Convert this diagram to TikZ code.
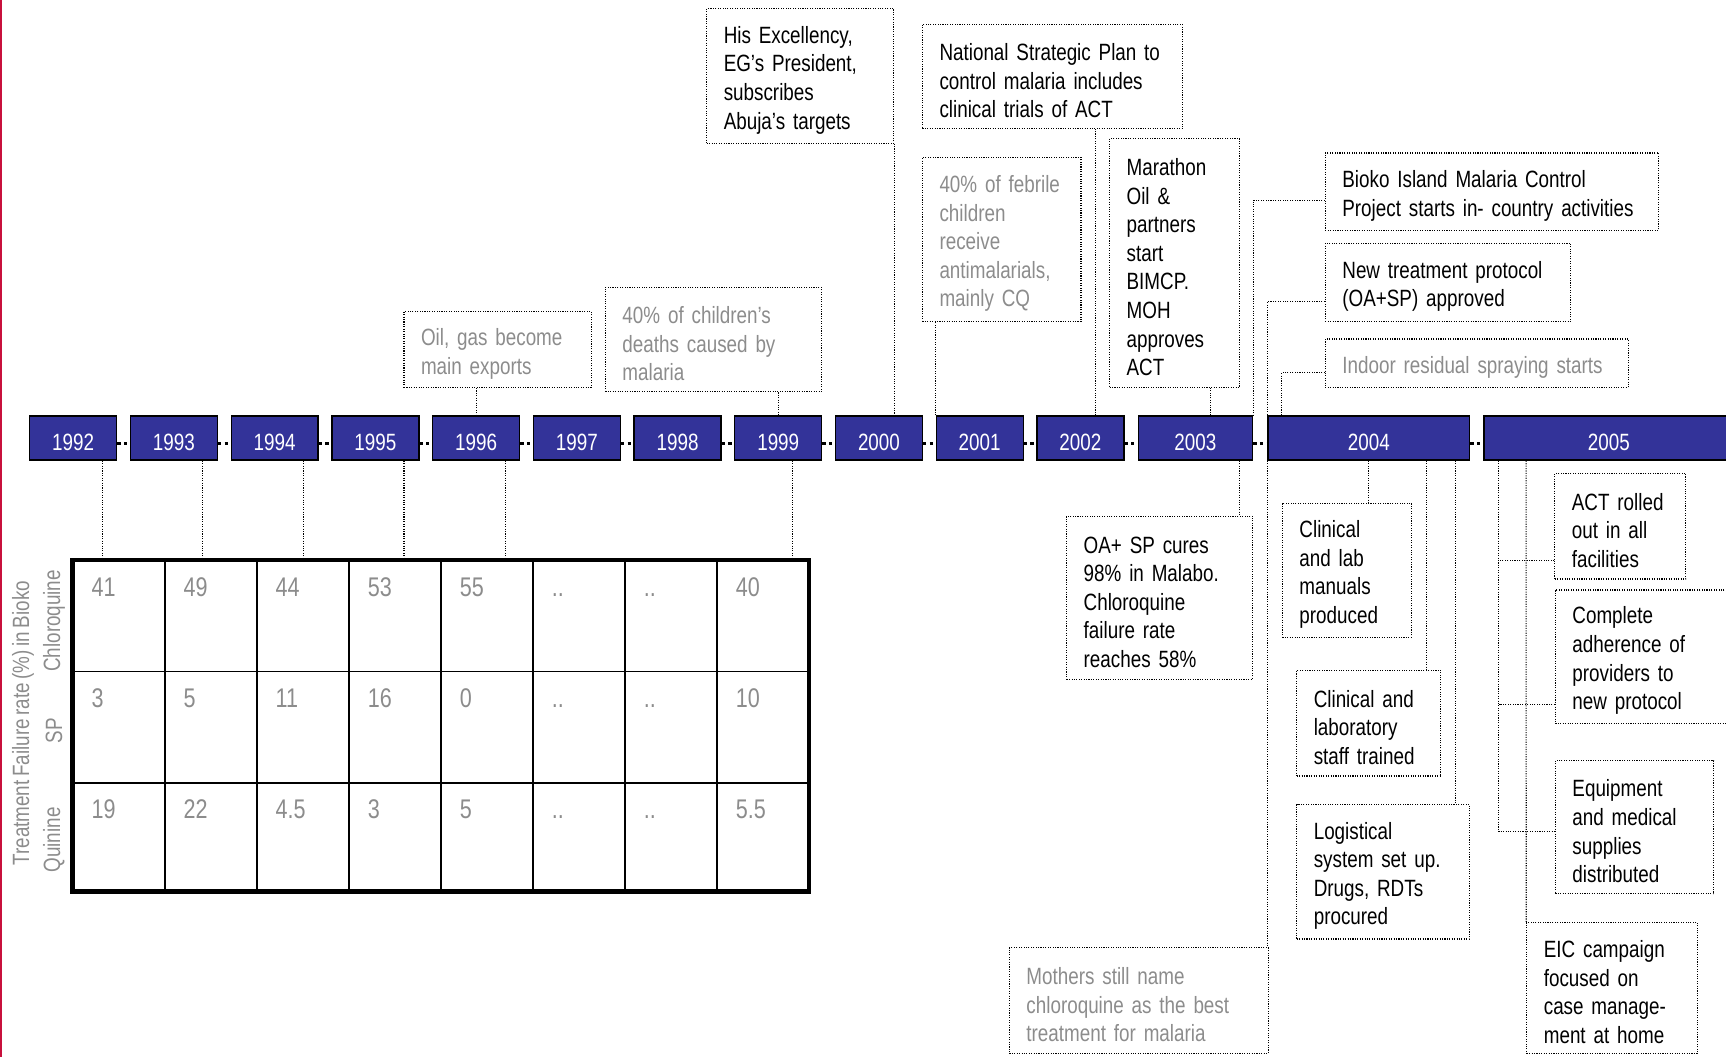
\documentclass[tikz,border=0pt]{standalone}
\usepackage{fontspec}
\setmainfont{Liberation Sans}[FakeStretch=0.80, WordSpace=0.7]
\hyphenpenalty=10000
\exhyphenpenalty=10000

\definecolor{yearblue}{RGB}{51,51,153}
\definecolor{fadegray}{RGB}{140,140,140}
\definecolor{edgered}{RGB}{200,16,60}

\tikzset{
  yearbox/.style={draw=black, line width=1.2pt, fill=yearblue, text=white, minimum width=79pt, minimum height=40pt, inner sep=0pt, text height=23pt, text depth=0pt},
  yeargap/.style={line width=3pt, dash pattern=on 3pt off 3pt},
  dotbox/.style={draw, line width=1pt, dash pattern=on 1pt off 1.2pt, align=left, inner xsep=15.5pt, inner ysep=0pt, execute at begin node={\rule{0pt}{23pt}}},
  link/.style={draw, line width=1pt, dash pattern=on 1pt off 1.2pt},
  faded/.style={text=fadegray},
  cell/.style={anchor=base west, text=fadegray, font=\fontsize{24.5}{29}\selectfont, inner sep=0pt}
}

\begin{document}
\begin{tikzpicture}[x=1pt, y=-1pt, font=\fontsize{21.4}{26}\selectfont]
        \useasboundingbox (0,0) rectangle (1568,960);

        % Red rule on the left edge of the slide
        \fill[edgered] (0,0) rectangle (2.2,960);

        % The years along the time line
        \node[yearbox] (y1992) at (66.5,398) {1992};
        \node[yearbox] (y1993) at (158,398) {1993};
        \node[yearbox] (y1994) at (249.5,398) {1994};
        \node[yearbox] (y1995) at (341,398) {1995};
        \node[yearbox] (y1996) at (432.5,398) {1996};
        \node[yearbox] (y1997) at (524,398) {1997};
        \node[yearbox] (y1998) at (615.5,398) {1998};
        \node[yearbox] (y1999) at (707,398) {1999};
        \node[yearbox] (y2000) at (798.5,398) {2000};
        \node[yearbox] (y2001) at (890,398) {2001};
        \node[yearbox] (y2002) at (981.5,398) {2002};
        \node[yearbox, minimum width=104pt] (y2003) at (1086,398) {2003};
        \node[yearbox, minimum width=183pt] (y2004) at (1243.5,398) {2004};
        \node[yearbox, minimum width=227pt] (y2005) at (1461.5,398) {2005};

        % Dots between the years
        \draw[yeargap] ([yshift=-5pt]y1992.east) -- ([yshift=-5pt]y1993.west);
        \draw[yeargap] ([yshift=-5pt]y1993.east) -- ([yshift=-5pt]y1994.west);
        \draw[yeargap] ([yshift=-5pt]y1994.east) -- ([yshift=-5pt]y1995.west);
        \draw[yeargap] ([yshift=-5pt]y1995.east) -- ([yshift=-5pt]y1996.west);
        \draw[yeargap] ([yshift=-5pt]y1996.east) -- ([yshift=-5pt]y1997.west);
        \draw[yeargap] ([yshift=-5pt]y1997.east) -- ([yshift=-5pt]y1998.west);
        \draw[yeargap] ([yshift=-5pt]y1998.east) -- ([yshift=-5pt]y1999.west);
        \draw[yeargap] ([yshift=-5pt]y1999.east) -- ([yshift=-5pt]y2000.west);
        \draw[yeargap] ([yshift=-5pt]y2000.east) -- ([yshift=-5pt]y2001.west);
        \draw[yeargap] ([yshift=-5pt]y2001.east) -- ([yshift=-5pt]y2002.west);
        \draw[yeargap] ([yshift=-5pt]y2002.east) -- ([yshift=-5pt]y2003.west);
        \draw[yeargap] ([yshift=-5pt]y2003.east) -- ([yshift=-5pt]y2004.west);
        \draw[yeargap] ([yshift=-5pt]y2004.east) -- ([yshift=-5pt]y2005.west);

        % Events above the time line
        \node[dotbox, faded, text width=139pt, minimum height=69pt] (oilgas) at (452,317.5) {Oil, gas become\\main exports};
        \node[dotbox, faded, text width=165pt, minimum height=95pt] (deaths) at (648,308.5) {40\% of children’s\\deaths caused by\\malaria};
        \node[dotbox, text width=139pt, minimum height=122pt] (excellency) at (727,69) {His Excellency,\\EG’s President,\\subscribes\\Abuja’s targets};
        \node[dotbox, text width=205pt, minimum height=95pt] (strategic) at (956,69.5) {National Strategic Plan to\\control malaria includes\\clinical trials of ACT};
        \node[dotbox, faded, text width=113pt, minimum height=149pt] (febrile) at (910,217.5) {40\% of febrile\\children\\receive\\antimalarials,\\mainly CQ};
        \node[dotbox, text width=87pt, minimum height=226pt] (marathon) at (1067,239) {Marathon\\Oil \&\\partners\\start\\BIMCP.\\MOH\\approves\\ACT};
        \node[dotbox, text width=272pt, minimum height=70pt] (bioko) at (1355.5,174) {Bioko Island Malaria Control\\Project starts in- country activities};
        \node[dotbox, text width=192pt, minimum height=71pt] (protocol) at (1315.5,256.5) {New treatment protocol\\(OA+SP) approved};
        \node[dotbox, faded, text width=244pt, minimum height=44pt] (spraying) at (1341.5,330) {Indoor residual spraying starts};

        % Events below the time line
        \node[dotbox, text width=138pt, minimum height=148pt] (cures) at (1053.5,543) {OA+ SP cures\\98\% in Malabo.\\Chloroquine\\failure rate\\reaches 58\%};
        \node[dotbox, faded, text width=204pt, minimum height=96pt] (mothers) at (1034.5,909) {Mothers still name\\chloroquine as the best\\treatment for malaria};
        \node[dotbox, text width=86pt, minimum height=122pt] (manuals) at (1223.5,518) {Clinical\\and lab\\manuals\\produced};
        \node[dotbox, text width=100pt, minimum height=96pt] (trained) at (1243.5,657) {Clinical and\\laboratory\\staff trained};
        \node[dotbox, text width=126pt, minimum height=122pt] (logistics) at (1256.5,792) {Logistical\\system set up.\\Drugs, RDTs\\procured};
        \node[dotbox, text width=88pt, minimum height=96pt] (rolled) at (1472,478) {ACT rolled\\out in all\\facilities};
        \node[dotbox, text width=136pt, minimum height=121pt] (adherence) at (1496.5,596.5) {Complete\\adherence of\\providers to\\new protocol};
        \node[dotbox, text width=113pt, minimum height=121pt] (equipment) at (1485,751.5) {Equipment\\and medical\\supplies\\distributed};
        \node[dotbox, text width=124pt, minimum height=119pt] (campaign) at (1464.5,897.5) {EIC campaign\\focused on\\case manage-\\ment at home};

        % Failure rate table
        \draw[line width=1.6pt] (149.6,509) -- (149.6,810) (233.3,509) -- (233.3,810) (316.9,509) -- (316.9,810)
            (400.5,509) -- (400.5,810) (484.1,509) -- (484.1,810) (567.8,509) -- (567.8,810) (651.4,509) -- (651.4,810)
            (66,610) -- (735,610) (66,711) -- (735,711);
        \node[draw, line width=4pt, minimum width=669pt, minimum height=301pt, inner sep=0pt] (table) at (400.5,659.5) {};

        % Chloroquine row
        \node[cell] (cq92) at (83,542) {41};
        \node[cell] (cq93) at (166.6,542) {49};
        \node[cell] (cq94) at (250.3,542) {44};
        \node[cell] (cq95) at (333.9,542) {53};
        \node[cell] (cq96) at (417.5,542) {55};
        \node[cell] (cq97) at (501.1,542) {..};
        \node[cell] (cq98) at (584.8,542) {..};
        \node[cell] (cq99) at (668.4,542) {40};

        % SP row
        \node[cell] (sp92) at (83,643) {3};
        \node[cell] (sp93) at (166.6,643) {5};
        \node[cell] (sp94) at (250.3,643) {11};
        \node[cell] (sp95) at (333.9,643) {16};
        \node[cell] (sp96) at (417.5,643) {0};
        \node[cell] (sp97) at (501.1,643) {..};
        \node[cell] (sp98) at (584.8,643) {..};
        \node[cell] (sp99) at (668.4,643) {10};

        % Quinine row
        \node[cell] (qn92) at (83,744) {19};
        \node[cell] (qn93) at (166.6,744) {22};
        \node[cell] (qn94) at (250.3,744) {4.5};
        \node[cell] (qn95) at (333.9,744) {3};
        \node[cell] (qn96) at (417.5,744) {5};
        \node[cell] (qn97) at (501.1,744) {..};
        \node[cell] (qn98) at (584.8,744) {..};
        \node[cell] (qn99) at (668.4,744) {5.5};

        % Row titles, turned on their side
        \node[rotate=90, faded] (ratelabel) at (21,657) {Treatment Failure rate (\%) in Bioko};
        \node[rotate=90, faded] (cqlabel) at (49,564) {Chloroquine};
        \node[rotate=90, faded] (splabel) at (49,664) {SP};
        \node[rotate=90, faded] (qnlabel) at (49,763) {Quinine};

        % Links from the events above
        \draw[link] (oilgas.south -| y1996.north) -- (y1996.north);
        \draw[link] (deaths.south -| y1999.north) -- (y1999.north);
        \draw[link] (excellency.south east) -- (excellency.south east |- y2000.north);
        \draw[link] (y2001.north west) -- (y2001.north west |- febrile.south);
        \draw[link] ([xshift=13.5pt]y2002.north) -- ([xshift=13.5pt]y2002.north |- strategic.south);
        \draw[link] ([xshift=14pt]y2003.north) -- ([xshift=14pt]y2003.north |- marathon.south);
        \draw[link] ([yshift=-8pt]bioko.west) -| (y2003.north east);
        \draw[link] ([yshift=-17.5pt]protocol.west) -| (y2004.north west);
        \draw[link] ([yshift=-8.5pt]spraying.west) -| ([xshift=13pt]y2004.north west);

        % Links from the years down to the table
        \draw[link] ([xshift=26.5pt]y1992.south) -- ([xshift=26.5pt]y1992.south |- table.north);
        \draw[link] ([xshift=26pt]y1993.south) -- ([xshift=26pt]y1993.south |- table.north);
        \draw[link] ([xshift=26.5pt]y1994.south) -- ([xshift=26.5pt]y1994.south |- table.north);
        \draw[link] ([xshift=26pt]y1995.south) -- ([xshift=26pt]y1995.south |- table.north);
        \draw[link] ([xshift=26.5pt]y1996.south) -- ([xshift=26.5pt]y1996.south |- table.north);
        \draw[link] ([xshift=13pt]y1999.south) -- ([xshift=13pt]y1999.south |- table.north);

        % Links to the events below
        \draw[link] ([xshift=40pt]y2003.south) -- ([xshift=40pt]y2003.south |- cures.north);
        \draw[link] (y2004.south west) -- (y2004.south west |- mothers.north);
        \draw[link] (y2004.south) -- (y2004.south |- manuals.north);
        \draw[link] ([xshift=52.5pt]y2004.south) -- ([xshift=52.5pt]y2004.south |- trained.north);
        \draw[link] ([xshift=78.5pt]y2004.south) -- ([xshift=78.5pt]y2004.south |- logistics.north);

        % 2005 has two branches
        \coordinate (busA) at ([xshift=14pt]y2005.south west);
        \coordinate (busB) at ([xshift=39pt]y2005.south west);
        \coordinate (rolledin) at ([yshift=-31pt]rolled.west);
        \coordinate (adherein) at ([yshift=-43.5pt]adherence.west);
        \draw[link] (busA) |- ([yshift=-4pt]equipment.west);
        \draw[link] (rolledin) -- (busA |- rolledin);
        \draw[link] (adherein) -- (busA |- adherein);
        \draw[link] (busB) -- (campaign.north west);
\end{tikzpicture}
\end{document}
